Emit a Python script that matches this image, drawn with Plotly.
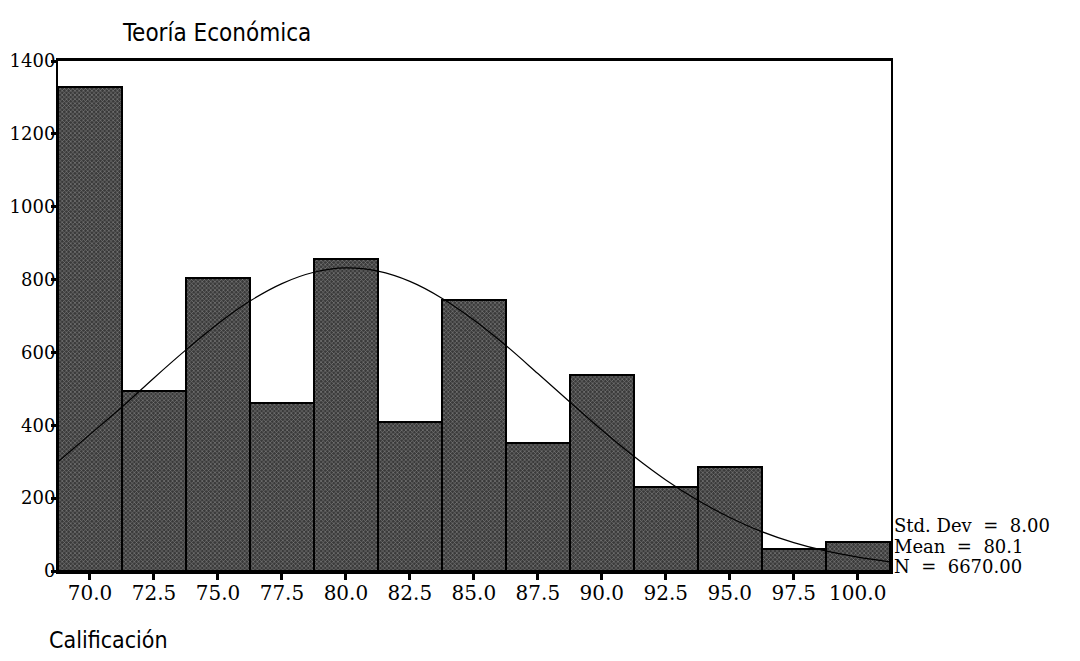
import plotly.graph_objects as go

# Histogram bins (centers) and counts
bin_centers = [70.0, 72.5, 75.0, 77.5, 80.0, 82.5, 85.0, 87.5, 90.0, 92.5, 95.0, 97.5, 100.0]
counts = [1330, 495, 805, 460, 857, 410, 745, 352, 538, 231, 286, 60, 80]

# Fitted normal curve
curve_x = [68.75, 70.0, 71.25, 72.5, 73.75, 75.0, 76.25, 77.5, 78.75, 80.0, 81.25, 82.5, 83.75,
           85.0, 86.25, 87.5, 88.75, 90.0, 91.25, 92.5, 93.75, 95.0, 96.25, 97.5, 98.75, 100.0, 101.25]
curve_y = [300, 375, 450, 530, 607, 679, 741, 789, 820, 832, 823, 795, 749,
           689, 619, 542, 464, 387, 315, 250, 194, 147, 108, 78, 55, 38, 25]

x_ticks = [70.0, 72.5, 75.0, 77.5, 80.0, 82.5, 85.0, 87.5, 90.0, 92.5, 95.0, 97.5, 100.0]
y_ticks = [0, 200, 400, 600, 800, 1000, 1200, 1400]
stats = ["Std. Dev = 8.00", "Mean = 80.1", "N = 6670.00"]

serif = "DejaVu Serif, Liberation Serif, serif"
narrow = "DejaVu Sans Condensed, Liberation Sans Narrow, Arial Narrow, sans-serif"

# page has an 8px body margin, so the figure is a bit smaller than the window
W, H = 1072, 653
OFF = 8

fig = go.Figure()

fig.add_trace(go.Bar(
    x=bin_centers, y=counts, width=2.5,
    marker=dict(color="#3a3a3a",
                line=dict(color="black", width=2),
                pattern=dict(shape="x", size=3, solidity=0.35, fgcolor="#cfcfcf")),
    showlegend=False,
))

fig.add_trace(go.Scatter(
    x=curve_x, y=curve_y, mode="lines", line=dict(color="black", width=1.2, shape="spline"),
    showlegend=False,
))

fig.update_layout(
    width=W, height=H,
    margin=dict(l=58 - OFF, r=W - (891 - OFF), t=61 - OFF, b=H - (571 - OFF)),
    paper_bgcolor="white", plot_bgcolor="white",
    bargap=0,
    title=dict(text="Teoría Económica", x=(123 - OFF) / W, xanchor="left",
               y=1 - (33 - OFF) / H, yanchor="middle",
               font=dict(family=narrow, size=24, color="black")),
    xaxis=dict(range=[68.75, 101.3], tickvals=x_ticks, tickformat=".1f",
               ticks="outside", ticklen=6, tickwidth=3, tickcolor="black",
               showline=True, linecolor="black", linewidth=3, mirror=True,
               showgrid=False, zeroline=False, automargin=False, ticklabelstandoff=-4,
               tickfont=dict(family=serif, size=20, color="black")),
    yaxis=dict(range=[0, 1400], tickvals=y_ticks,
               ticks="outside", ticklen=5, tickwidth=3, tickcolor="black",
               showline=True, linecolor="black", linewidth=2, mirror=True,
               showgrid=False, zeroline=False, automargin=False, ticklabelstandoff=-8,
               tickfont=dict(family=serif, size=18, color="black")),
)

fig.add_annotation(text="Calificación", xref="paper", yref="paper",
                   x=-11 / 833, xanchor="left", y=-(640 - 571) / 510, yanchor="middle",
                   showarrow=False, font=dict(family=narrow, size=23, color="black"))

stat_y = [525, 546, 566]
for txt, py in zip(stats, stat_y):
    fig.add_annotation(text=txt.replace(" = ", "\u00a0\u00a0=\u00a0\u00a0"), xref="paper", yref="paper",
                       x=1.0, xanchor="left", xshift=1, y=(571 - py) / 510, yanchor="middle",
                       height=20, align="left", valign="middle", showarrow=False,
                       font=dict(family=serif, size=18, color="black"))

fig.write_html("out.html")
